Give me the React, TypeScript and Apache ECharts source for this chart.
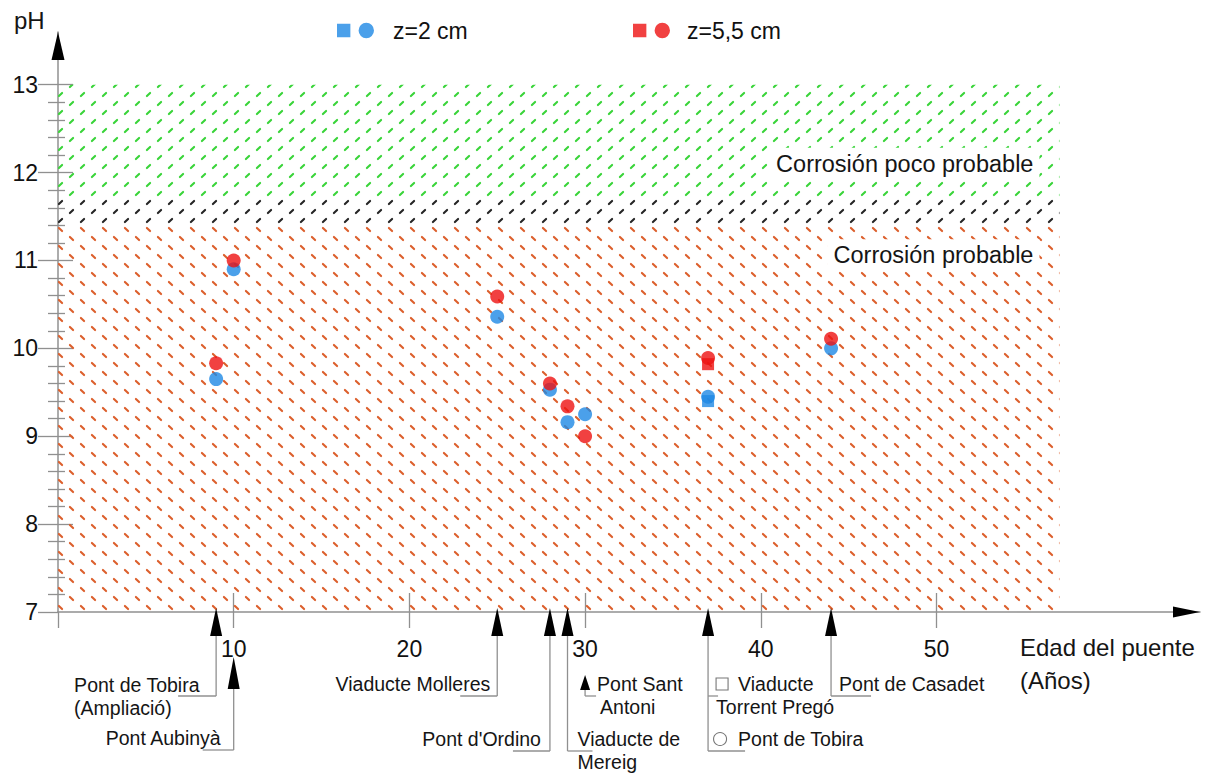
import React, { useEffect, useRef } from 'react';
import * as echarts from 'echarts';

// ---------- data ----------
const xTickValues = [0, 10, 20, 30, 40, 50];
const xLabelValues = [10, 20, 30, 40, 50];
const yTickValues = [7, 8, 9, 10, 11, 12, 13];
const yInnerTickValues = [8, 9, 10, 11, 12, 13];
const yMinorTickValues = [
  7.2, 7.4, 7.6, 7.8, 8.2, 8.4, 8.6, 8.8, 9.2, 9.4, 9.6, 9.8, 10.2, 10.4, 10.6, 10.8,
  11.2, 11.4, 11.6, 11.8, 12.2, 12.4, 12.6, 12.8,
];

const bridgeAges = [9, 10, 25, 28, 29, 30, 37, 44];
const phCircle2cm = [9.65, 10.9, 10.36, 9.53, 9.16, 9.25, 9.45, 10.0];
const phCircle55cm = [9.83, 11.0, 10.59, 9.6, 9.34, 9.0, 9.89, 10.11];
const squareAges = [37];
const phSquare2cm = [9.4];
const phSquare55cm = [9.82];

const zoneAgeMax = 57;
const zoneProbable = [7, 11.4];
const zoneTransition = [11.4, 11.7];
const zonePocoProbable = [11.7, 13];

const legendNames = ['z=2 cm', 'z=5,5 cm'];
const zoneLabels = ['Corrosión poco probable', 'Corrosión probable'];

// annotation labels (one per bridge age)
const annotLabels: string[][] = [
  ['Pont de Tobira', '(Ampliació)'],
  ['Pont Aubinyà'],
  ['Viaducte Molleres'],
  ["Pont d'Ordino"],
  ['Viaducte de', 'Mereig'],
  ['Pont Sant', 'Antoni'],
  ['Viaducte', 'Torrent Pregó', 'Pont de Tobira'],
  ['Pont de Casadet'],
];

const BLUE = '#1e88e5';
const RED = '#ee1111';
const FONT = '"Liberation Sans", Arial, Helvetica, sans-serif';

function makeHatch(color: string, dir: 'down' | 'up') {
  const w = 22, h = 18;
  const c = document.createElement('canvas');
  c.width = w; c.height = h;
  const ctx = c.getContext('2d')!;
  ctx.strokeStyle = color;
  ctx.lineWidth = 2.1;
  ctx.lineCap = 'round';
  const centers = dir === 'down' ? [[5.5, 4.5], [16.5, 13.5]] : [[5.5, 13.5], [16.5, 4.5]];
  const d = 1.6;
  for (const [cx, cy] of centers) {
    ctx.beginPath();
    if (dir === 'down') { ctx.moveTo(cx - d, cy - d); ctx.lineTo(cx + d, cy + d); }
    else { ctx.moveTo(cx - d, cy + d); ctx.lineTo(cx + d, cy - d); }
    ctx.stroke();
  }
  return { image: c.toDataURL(), repeat: 'repeat', imageWidth: w, imageHeight: h };
}

export default function App() {
  const ref = useRef<HTMLDivElement>(null);

  useEffect(() => {
    const chart = echarts.init(ref.current!, null, { renderer: 'svg' });
    const X_MAX = 65;
    const Y_MAX = 13.6;
    const gray = '#909090';
    const tickStyle = { color: gray, width: 1.3 };

    const hatchOrange = makeHatch('#dc5f2c', 'down');
    const hatchGreen = makeHatch('#3ad43a', 'up');
    const hatchBlack = makeHatch('#262626', 'up');

    const legendIcon =
      'path://M0 2h13v13H0z M21 8.5a7.5 7.5 0 1 0 15 0a7.5 7.5 0 1 0 -15 0z';

    const baseY = (extra: any) => ({
      type: 'value', min: 7, max: Y_MAX, position: 'left',
      splitLine: { show: false },
      axisLine: { show: false, onZero: false },
      axisLabel: { show: false },
      ...extra,
    });
    const baseX = (extra: any) => ({
      type: 'value', min: 0, max: X_MAX, position: 'bottom',
      splitLine: { show: false },
      axisLine: { show: false, onZero: false },
      axisLabel: { show: false },
      ...extra,
    });

    const option: any = {
      animation: false,
      textStyle: { fontFamily: FONT },
      grid: { left: 58, right: 14, top: 32, bottom: 161 },
      legend: [
        {
          data: [{ name: legendNames[0], icon: legendIcon }],
          left: 332, top: 14, itemWidth: 37, itemHeight: 16,
          selectedMode: false,
          textStyle: { fontSize: 23, color: '#111', padding: [0, 0, 0, 14], fontFamily: FONT },
        },
        {
          data: [{ name: legendNames[1], icon: legendIcon }],
          left: 628, top: 14, itemWidth: 37, itemHeight: 16,
          selectedMode: false,
          textStyle: { fontSize: 23, color: '#111', padding: [0, 0, 0, 12], fontFamily: FONT },
        },
      ],
      xAxis: [
        baseX({
          axisLine: { show: true, onZero: false, lineStyle: { color: gray, width: 1.5 } },
          axisTick: { show: true, customValues: xTickValues, length: 16, lineStyle: tickStyle },
          axisLabel: { show: true, customValues: xLabelValues, margin: 25, fontSize: 23, color: '#111', fontFamily: FONT },
        }),
        baseX({
          axisTick: { show: true, inside: true, customValues: xLabelValues, length: 19, lineStyle: tickStyle },
        }),
      ],
      yAxis: [
        baseY({
          axisLine: { show: true, onZero: false, lineStyle: { color: gray, width: 1.5 } },
          axisTick: { show: true, customValues: yTickValues, length: 20, lineStyle: tickStyle },
          axisLabel: { show: true, customValues: yTickValues, margin: 20, fontSize: 23, color: '#111', fontFamily: FONT },
        }),
        baseY({ axisTick: { show: true, inside: true, customValues: yInnerTickValues, length: 15, lineStyle: tickStyle } }),
        baseY({ axisTick: { show: true, customValues: yMinorTickValues, length: 10, lineStyle: tickStyle } }),
        baseY({ axisTick: { show: true, inside: true, customValues: yMinorTickValues, length: 7, lineStyle: tickStyle } }),
      ],
      series: [
        {
          type: 'scatter', name: 'zonas', data: [], silent: true, z: 1,
          markArea: {
            silent: true,
            emphasis: { disabled: true },
            label: { show: false },
            data: [
              [{ xAxis: 0, yAxis: zoneProbable[0], itemStyle: { color: hatchOrange, borderWidth: 0 } }, { xAxis: zoneAgeMax, yAxis: zoneProbable[1] }],
              [{ xAxis: 0, yAxis: zoneTransition[0], itemStyle: { color: hatchBlack, borderWidth: 0 } }, { xAxis: zoneAgeMax, yAxis: zoneTransition[1] }],
              [{ xAxis: 0, yAxis: zonePocoProbable[0], itemStyle: { color: hatchGreen, borderWidth: 0 } }, { xAxis: zoneAgeMax, yAxis: zonePocoProbable[1] }],
            ],
          },
        },
        {
          type: 'scatter', name: legendNames[0], symbol: 'circle', symbolSize: 14, z: 3,
          itemStyle: { color: BLUE },
          data: bridgeAges.map((a, i) => [a, phCircle2cm[i]]),
        },
        {
          type: 'scatter', name: legendNames[0], symbol: 'rect', symbolSize: 12, z: 3,
          itemStyle: { color: BLUE },
          data: squareAges.map((a, i) => [a, phSquare2cm[i]]),
        },
        {
          type: 'scatter', name: legendNames[1], symbol: 'circle', symbolSize: 14, z: 4,
          itemStyle: { color: RED },
          data: bridgeAges.map((a, i) => [a, phCircle55cm[i]]),
        },
        {
          type: 'scatter', name: legendNames[1], symbol: 'rect', symbolSize: 12, z: 4,
          itemStyle: { color: RED },
          data: squareAges.map((a, i) => [a, phSquare55cm[i]]),
        },
      ],
    };
    chart.setOption(option);

    // ---------- overlay graphics (positioned from axis scales) ----------
    const px = (x: number, y: number) =>
      chart.convertToPixel({ xAxisIndex: 0, yAxisIndex: 0 }, [x, y]) as number[];
    const [x0, yA] = px(0, 7);
    const top = px(0, Y_MAX)[1];
    const right = px(X_MAX, 7)[0];

    const g: any[] = [];
    const text = (x: number, y: number, t: string, size: number, align = 'left', extra: any = {}) =>
      g.push({
        type: 'text', x, y, z: 100,
        style: {
          text: t, font: `${size}px ${FONT}`, fill: '#151515',
          align, textAlign: align, verticalAlign: 'middle', textVerticalAlign: 'middle', ...extra,
        },
      });
    const line = (x1: number, y1: number, x2: number, y2: number) =>
      g.push({ type: 'line', z: 90, shape: { x1, y1, x2, y2 }, style: { stroke: gray, lineWidth: 1.3 } });
    const arrowUp = (x: number, tipY: number, baseYp: number, hw: number) =>
      g.push({ type: 'polygon', z: 95, shape: { points: [[x, tipY], [x - hw, baseYp], [x + hw, baseYp]] }, style: { fill: '#000' } });

    // axis arrows
    arrowUp(x0, top, top + 28, 6.5);
    g.push({ type: 'polygon', z: 95, shape: { points: [[right, yA], [right - 27, yA - 5.5], [right - 27, yA + 5.5]] }, style: { fill: '#000' } });

    // axis names
    text(14, 20, 'pH', 24);
    text(1020, 647, 'Edad del puente', 24);
    text(1020, 680, '(Años)', 24);

    // zone labels
    const zr = px(zoneAgeMax, 7)[0];
    text(zr - 20, px(0, 12.1)[1], zoneLabels[0], 23.5, 'right', { backgroundColor: '#fff', padding: [4, 6] });
    text(zr - 20, px(0, 11.06)[1], zoneLabels[1], 23.5, 'right', { backgroundColor: '#fff', padding: [4, 6] });

    // bridge annotations
    const AF = 19.5;
    bridgeAges.forEach((age, i) => {
      const ax = px(age, 7)[0];
      const L = annotLabels[i];
      switch (i) {
        case 0:
          arrowUp(ax, yA - 4, yA + 24, 6);
          line(ax, yA + 24, ax, yA + 84); line(ax, yA + 84, ax - 38, yA + 84);
          text(ax - 142, yA + 73, L[0], AF); text(ax - 142, yA + 96, L[1], AF);
          break;
        case 1:
          arrowUp(ax, yA + 45, yA + 77, 6);
          line(ax, yA + 77, ax, yA + 138); line(ax, yA + 138, ax - 31, yA + 138);
          text(ax - 13, yA + 126, L[0], AF, 'right');
          break;
        case 2:
          arrowUp(ax, yA - 4, yA + 24, 6);
          line(ax, yA + 24, ax, yA + 84); line(ax, yA + 84, ax - 37, yA + 84);
          text(ax - 7, yA + 72, L[0], AF, 'right');
          break;
        case 3:
          arrowUp(ax, yA - 4, yA + 24, 6);
          line(ax, yA + 24, ax, yA + 139); line(ax, yA + 139, ax - 37, yA + 139);
          text(ax - 9, yA + 127, L[0], AF, 'right');
          break;
        case 4:
          arrowUp(ax, yA - 4, yA + 24, 6);
          line(ax, yA + 24, ax, yA + 139); line(ax, yA + 139, ax + 25, yA + 139);
          text(ax + 10, yA + 127, L[0], AF); text(ax + 10, yA + 150, L[1], AF);
          break;
        case 5:
          arrowUp(ax, yA + 63, yA + 78, 5);
          line(ax, yA + 78, ax, yA + 84); line(ax, yA + 84, ax + 11, yA + 84);
          text(ax + 12, yA + 72, L[0], AF); text(ax + 15, yA + 95, L[1], AF);
          break;
        case 6:
          arrowUp(ax, yA - 4, yA + 24, 6);
          line(ax, yA + 24, ax, yA + 139); line(ax, yA + 139, ax + 37, yA + 139);
          line(ax, yA + 84, ax + 10, yA + 84);
          g.push({ type: 'rect', z: 95, shape: { x: ax + 8, y: yA + 66, width: 12, height: 12 }, style: { fill: '#fff', stroke: '#777', lineWidth: 1.1 } });
          text(ax + 30, yA + 72, L[0], AF);
          text(ax + 8, yA + 95, L[1], AF);
          g.push({ type: 'circle', z: 95, shape: { cx: ax + 12, cy: yA + 127, r: 6.5 }, style: { fill: '#fff', stroke: '#777', lineWidth: 1.1 } });
          text(ax + 30, yA + 127, L[2], AF);
          break;
        case 7:
          arrowUp(ax, yA - 4, yA + 24, 6);
          line(ax, yA + 24, ax, yA + 84); line(ax, yA + 84, ax + 40, yA + 84);
          text(ax + 8, yA + 72, L[0], AF);
          break;
      }
    });

    chart.setOption({ graphic: { elements: g } });

    return () => chart.dispose();
  }, []);

  return (
    <div
      ref={ref}
      style={{ position: 'fixed', left: 0, top: 0, width: 1214, height: 773, background: '#fff' }}
    />
  );
}
